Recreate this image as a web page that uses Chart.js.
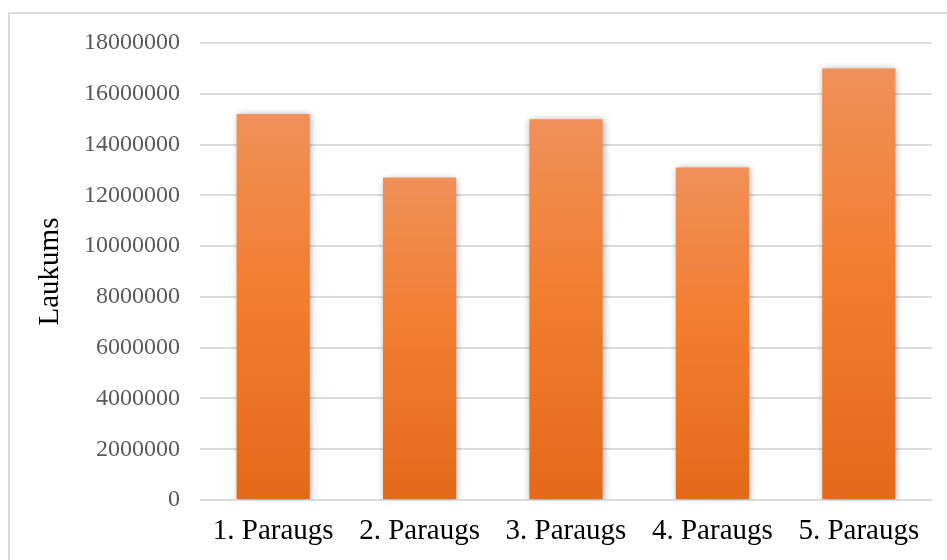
<!DOCTYPE html>
<html>
<head>
<meta charset="utf-8">
<script src="https://cdn.jsdelivr.net/npm/chart.js@4/dist/chart.umd.min.js"></script>
<style>
  html, body { margin: 0; padding: 0; background: #ffffff; }
  #wrap { width: 947px; height: 560px; }
</style>
</head>
<body>
<div id="wrap"><canvas id="c" width="947" height="560"></canvas></div>
<script>
// Area per sample
const categories = ['1. Paraugs', '2. Paraugs', '3. Paraugs', '4. Paraugs', '5. Paraugs'];
const areaValues = [15200000, 12700000, 15000000, 13100000, 17000000];
const yTickMax = 18000000;
const yTickStep = 2000000;
const yTitle = 'Laukums';

const serif = "'Liberation Serif', 'Times New Roman', serif";

// Vertical gradient spanning each bar from its top to the baseline
function barGradient(context) {
  const chart = context.chart;
  const area = chart.chartArea;
  if (!area || context.type !== 'data') return '#EE7D33';
  const yScale = chart.scales.y;
  const top = yScale.getPixelForValue(context.raw);
  const bottom = yScale.getPixelForValue(0);
  const g = chart.ctx.createLinearGradient(0, top, 0, bottom);
  g.addColorStop(0, '#F0905A');
  g.addColorStop(0.45, '#F27E30');
  g.addColorStop(1, '#E4691A');
  return g;
}

// Light frame around the chart and soft shadow under the bars
const framePlugin = {
  id: 'frame',
  beforeDraw(chart) {
    const ctx = chart.ctx;
    ctx.save();
    ctx.strokeStyle = '#d9d9d9';
    ctx.lineWidth = 2;
    ctx.strokeRect(9, 13, 1000, 1000);
    ctx.restore();
  },
  beforeDatasetsDraw(chart) {
    const ctx = chart.ctx;
    ctx.save();
    ctx.shadowColor = 'rgba(0,0,0,0.35)';
    ctx.shadowBlur = 7;
    ctx.shadowOffsetX = 1;
    ctx.shadowOffsetY = 1;
  },
  afterDatasetsDraw(chart) {
    chart.ctx.restore();
  }
};

new Chart(document.getElementById('c'), {
  type: 'bar',
  data: {
    labels: categories,
    datasets: [{
      data: areaValues,
      backgroundColor: barGradient,
      borderWidth: 0,
      categoryPercentage: 1,
      barPercentage: 0.5
    }]
  },
  options: {
    responsive: false,
    animation: false,
    devicePixelRatio: 1,
    layout: { padding: { left: 0, right: 15, top: 43, bottom: 0 } },
    plugins: {
      legend: { display: false },
      tooltip: { enabled: false }
    },
    scales: {
      x: {
        grid: { display: false, drawTicks: false },
        border: { display: false },
        ticks: {
          color: '#000000',
          font: { family: serif, size: 29 },
          padding: 14,
          maxRotation: 0,
          autoSkip: false
        },
        afterFit(scale) { scale.height = 60; }
      },
      y: {
        min: 0,
        max: yTickMax,
        grid: { color: '#dcdcdc', lineWidth: 2, drawTicks: false },
        border: { display: false },
        ticks: {
          stepSize: yTickStep,
          color: '#595959',
          font: { family: serif, size: 24 },
          padding: 20,
          callback: (v) => String(v)
        },
        title: {
          display: true,
          text: yTitle,
          color: '#000000',
          font: { family: serif, size: 29 },
          padding: { top: 33, bottom: 0 }
        },
        afterFit(scale) { scale.width = 200; }
      }
    }
  },
  plugins: [framePlugin]
});
</script>
</body>
</html>
